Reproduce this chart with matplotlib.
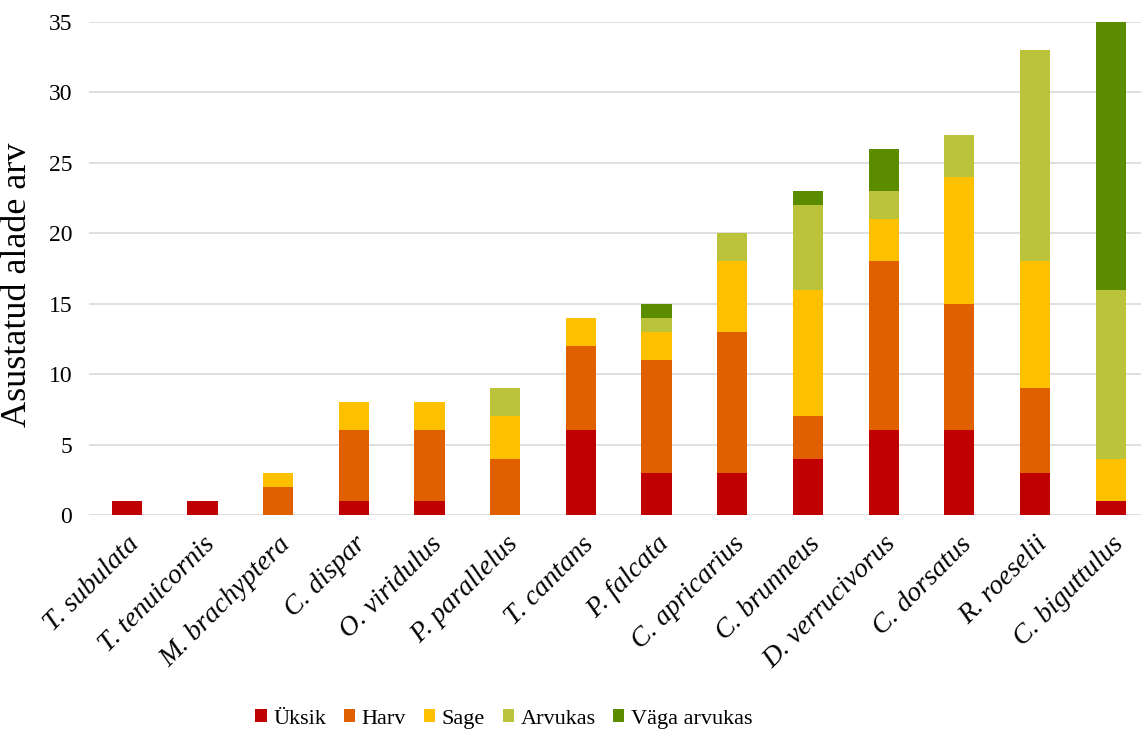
import matplotlib.pyplot as plt
import numpy as np

plt.rcParams['font.family'] = ['Liberation Serif', 'DejaVu Serif']

species = ["T. subulata", "T. tenuicornis", "M. brachyptera", "C. dispar", "O. viridulus",
           "P. parallelus", "T. cantans", "P. falcata", "C. apricarius", "C. brunneus",
           "D. verrucivorus", "C. dorsatus", "R. roeselii", "C. biguttulus"]

uksik = [1, 1, 0, 1, 1, 0, 6, 3, 3, 4, 6, 6, 3, 1]
harv = [0, 0, 2, 5, 5, 4, 6, 8, 10, 3, 12, 9, 6, 0]
sage = [0, 0, 1, 2, 2, 3, 2, 2, 5, 9, 3, 9, 9, 3]
arvukas = [0, 0, 0, 0, 0, 2, 0, 1, 2, 6, 2, 3, 15, 12]
vaga_arvukas = [0, 0, 0, 0, 0, 0, 0, 1, 0, 1, 3, 0, 0, 19]

series = [("Üksik", uksik, "#C00000"),
          ("Harv", harv, "#E06000"),
          ("Sage", sage, "#FFC000"),
          ("Arvukas", arvukas, "#BBC33A"),
          ("Väga arvukas", vaga_arvukas, "#5B8C00")]

fig = plt.figure(figsize=(11.41, 7.34), dpi=100)
ax = fig.add_axes([89 / 1141, 1 - 515 / 734, 1 - 89 / 1141, (515 - 22) / 734])

x = np.arange(len(species))
bottom = np.zeros(len(species))
for name, vals, col in series:
    vals = np.array(vals, dtype=float)
    ax.bar(x, vals, bottom=bottom, width=0.4, color=col, label=name, zorder=3)
    bottom += vals

ax.set_ylim(0, 35)
ax.set_xlim(-0.5, 13.4)
ax.set_yticks(np.arange(0, 36, 5))
ax.yaxis.grid(True, color="#D9D9D9", linewidth=1.2, zorder=0)
for s in ax.spines.values():
    s.set_visible(False)
ax.tick_params(axis="both", length=0)
ax.tick_params(axis="y", labelsize=17, pad=12)
ax.set_xticks(x)
ax.set_xticklabels(species, rotation=45, ha="right", rotation_mode="anchor",
                   fontstyle="italic", fontsize=20)
ax.tick_params(axis="x", pad=12)
ax.set_ylabel("Asustatud alade arv", fontsize=26)
ax.yaxis.set_label_coords(-0.052, 0.467)

fig.legend(*ax.get_legend_handles_labels(), loc="center",
           bbox_to_anchor=(504 / 1141, 1 - 719 / 734), ncol=5, frameon=False,
           fontsize=16, handlelength=0.5, handleheight=0.5, handletextpad=0.3,
           columnspacing=0.8, borderpad=0)

fig.savefig("out.png", dpi=100)
